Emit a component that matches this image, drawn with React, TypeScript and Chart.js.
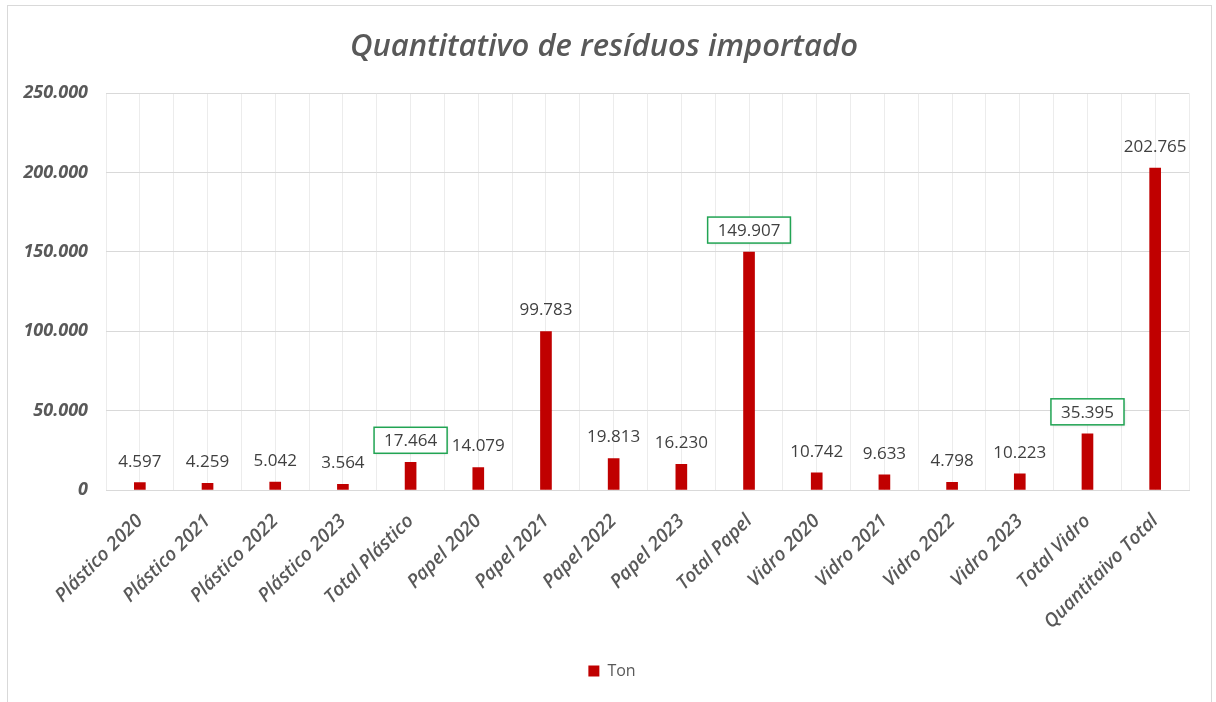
import React, { useEffect, useRef } from "react";
import { Chart, registerables } from "chart.js";

Chart.register(...registerables);

const categories = [
  "Plástico 2020", "Plástico 2021", "Plástico 2022", "Plástico 2023", "Total Plástico",
  "Papel 2020", "Papel 2021", "Papel 2022", "Papel 2023", "Total Papel",
  "Vidro 2020", "Vidro 2021", "Vidro 2022", "Vidro 2023", "Total Vidro",
  "Quantitaivo Total",
];
const tonValues = [
  4597, 4259, 5042, 3564, 17464,
  14079, 99783, 19813, 16230, 149907,
  10742, 9633, 4798, 10223, 35395,
  202765,
];
const boxedLabels = ["Total Plástico", "Total Papel", "Total Vidro"];
const seriesName = "Ton";
const chartTitle = "Quantitativo de resíduos importado";
const yMax = 250000;
const yStep = 50000;

const FONT = "'Open Sans', 'Noto Sans', sans-serif";
const fmt = (v: number) => String(Math.round(v)).replace(/\B(?=(\d{3})+(?!\d))/g, ".");

const dataLabelPlugin = {
  id: "dataLabels",
  afterDatasetsDraw(chart: any) {
    const ctx = chart.ctx;
    const meta = chart.getDatasetMeta(0);
    ctx.save();
    ctx.font = `17px ${FONT}`;
    ctx.textAlign = "center";
    ctx.textBaseline = "middle";
    meta.data.forEach((bar: any, i: number) => {
      const txt = fmt(tonValues[i]);
      const x = bar.x;
      const y = bar.y - 22;
      if (boxedLabels.includes(categories[i])) {
        const w = ctx.measureText(txt).width + 20;
        const h = 26;
        ctx.save();
        ctx.shadowColor = "rgba(0,0,0,0.18)";
        ctx.shadowBlur = 3;
        ctx.shadowOffsetX = 1;
        ctx.shadowOffsetY = 1;
        ctx.fillStyle = "#ffffff";
        ctx.fillRect(x - w / 2, y - h / 2, w, h);
        ctx.restore();
        ctx.strokeStyle = "#21a453";
        ctx.lineWidth = 1.5;
        ctx.strokeRect(x - w / 2, y - h / 2, w, h);
      }
      ctx.fillStyle = "#404040";
      ctx.fillText(txt, x, y + 1);
    });
    ctx.restore();
  },
};

const legendShiftPlugin = {
  id: "legendShift",
  afterLayout(chart: any) {
    const l = chart.legend;
    if (l) {
      l.left += 8;
      l.right += 8;
    }
  },
};

export default function App() {
  const ref = useRef<HTMLCanvasElement>(null);
  useEffect(() => {
    if (!ref.current) return;
    const chart = new Chart(ref.current, {
      type: "bar",
      data: {
        labels: categories,
        datasets: [
          {
            label: seriesName,
            data: tonValues,
            backgroundColor: "#c00000",
            borderWidth: 0,
            barThickness: 11,
            xAxisID: "x",
          },
        ],
      },
      plugins: [dataLabelPlugin, legendShiftPlugin],
      options: {
        responsive: false,
        animation: false,
        layout: { padding: { left: 11, right: 22, top: 0, bottom: 13 } },
        plugins: {
          tooltip: { enabled: false },
          title: {
            display: true,
            text: chartTitle,
            color: "#595959",
            font: { family: FONT, size: 31, weight: "600", style: "italic" },
            padding: { top: 23, bottom: 27 },
          },
          legend: {
            display: true,
            position: "bottom",
            labels: {
              color: "#595959",
              boxWidth: 11,
              boxHeight: 11,
              padding: 10,
              font: { family: FONT, size: 16 },
            },
          },
        },
        scales: {
          x: {
            type: "category",
            position: "bottom",
            offset: true,
            grid: { display: true, offset: true, color: "#ececec", drawTicks: false },
            border: { display: true, color: "#d9d9d9" },
            ticks: {
              color: "#595959",
              minRotation: 45,
              maxRotation: 45,
              padding: 20,
              autoSkip: false,
              font: { family: FONT, size: 19, weight: "600", style: "italic" },
            },
            afterFit(scale: any) {
              scale.height = 163;
            },
          },
          x2: {
            type: "category",
            position: "bottom",
            labels: categories,
            offset: true,
            grid: { display: true, offset: false, color: "#ececec", drawTicks: false },
            border: { display: false },
            ticks: { display: false },
            afterFit(scale: any) {
              scale.height = 0;
            },
          },
          y: {
            min: 0,
            max: yMax,
            grid: { color: "#d9d9d9", drawTicks: false },
            border: { display: false },
            ticks: {
              stepSize: yStep,
              color: "#595959",
              padding: 18,
              callback: (v: any) => fmt(Number(v)),
              font: { family: FONT, size: 18, weight: "bold", style: "italic" },
            },
            afterFit(scale: any) {
              scale.width = 87;
            },
          },
        },
      },
    } as any);
    return () => chart.destroy();
  }, []);

  return (
    <div
      style={{
        position: "absolute",
        left: 7,
        top: 5,
        width: 1205,
        height: 700,
        boxSizing: "border-box",
        border: "1px solid #d9d9d9",
        background: "#ffffff",
      }}
    >
      <canvas ref={ref} width={1203} height={696} style={{ display: "block" }} />
    </div>
  );
}
